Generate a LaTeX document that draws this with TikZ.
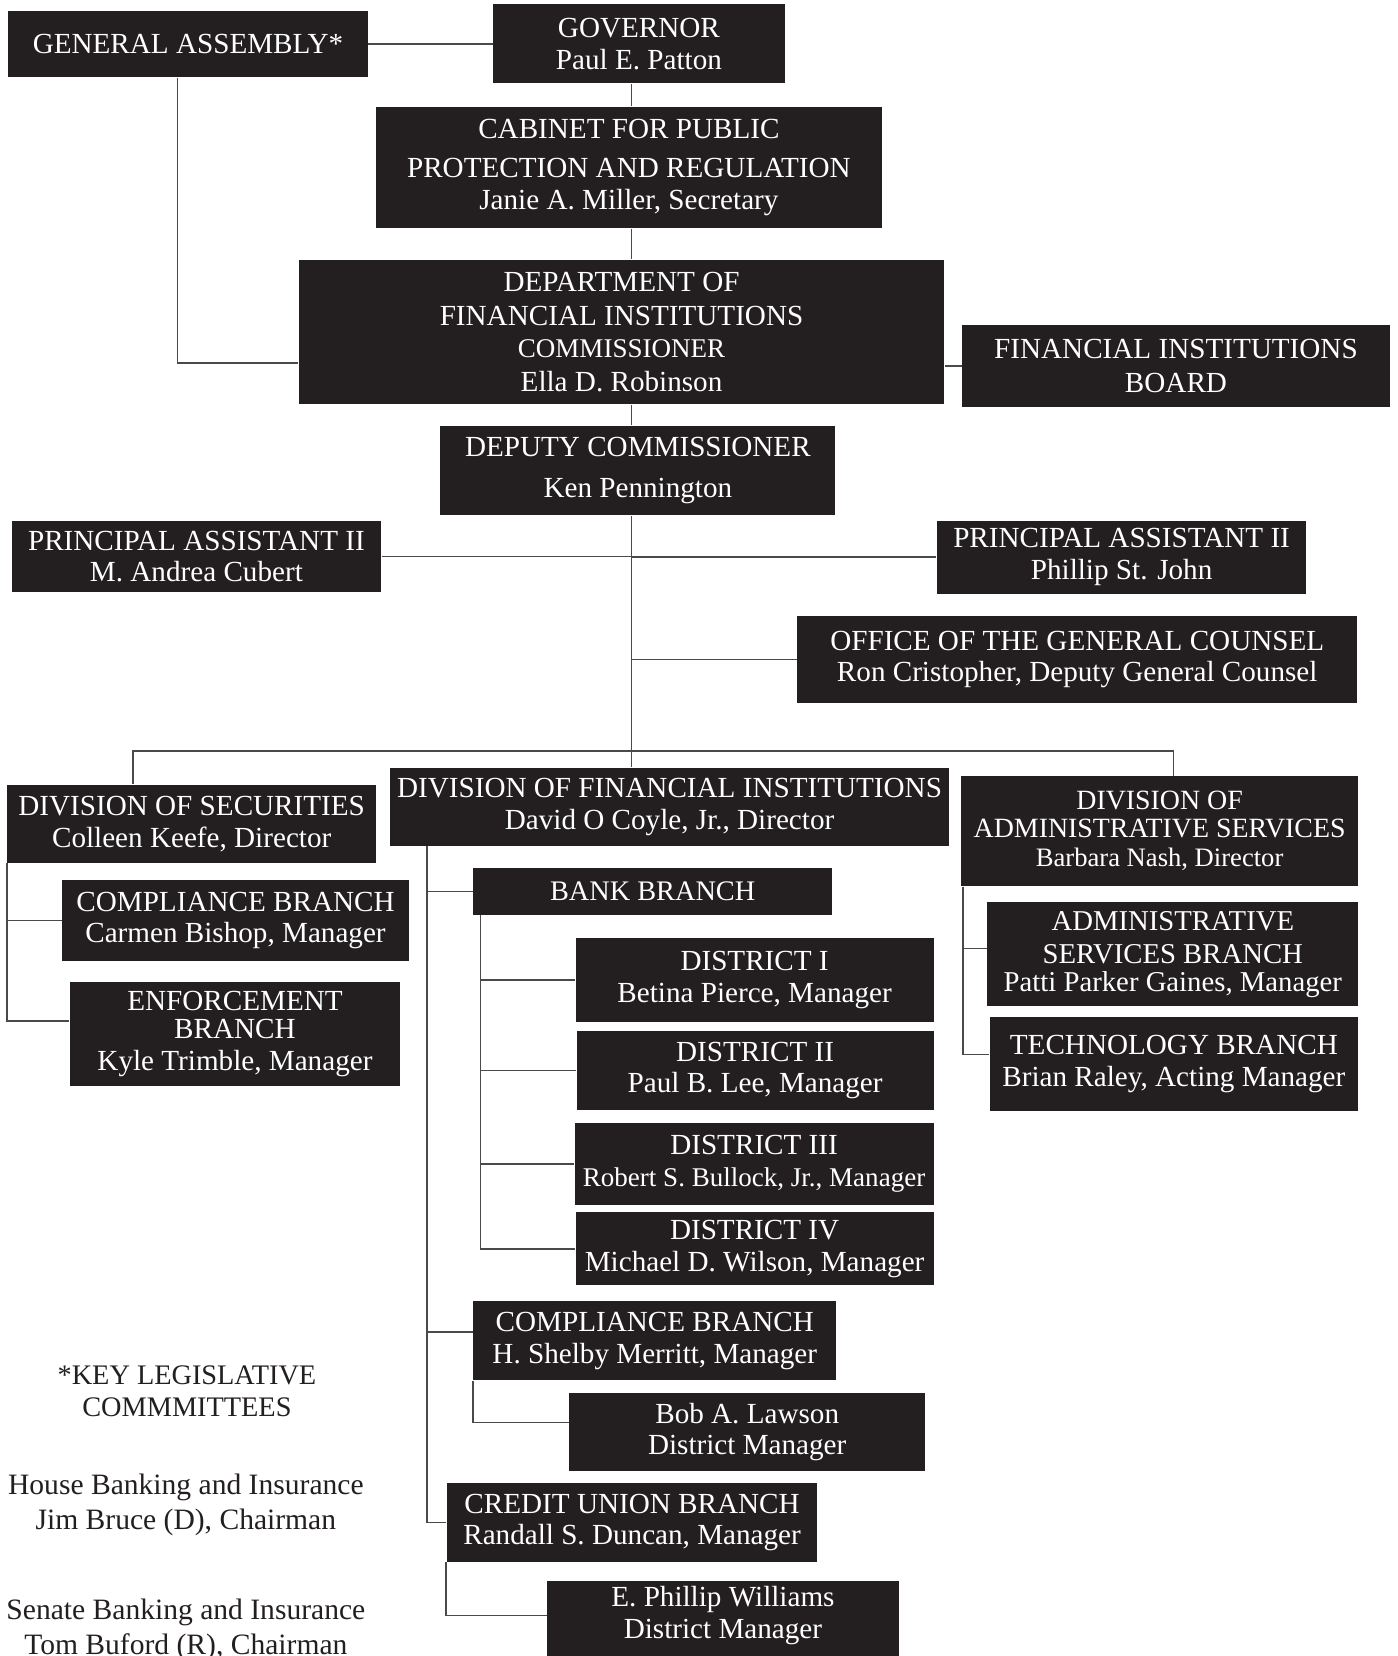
\documentclass[tikz,border=0pt]{standalone}
\usepackage{fontspec}
\setmainfont{Liberation Serif}
\definecolor{boxfill}{HTML}{231F20}
\definecolor{linec}{HTML}{4A4A4A}
\tikzset{
  orgbox/.style={fill=boxfill, text=white, align=center, inner sep=2pt, font=\fontsize{13.8}{15}\selectfont},
  conn/.style={draw=linec, line width=0.8pt},
  plaintext/.style={text=boxfill, align=center, inner sep=0pt, font=\fontsize{13.4}{15}\selectfont}
}
\newcommand\obox[7][]{%
  \pgfmathsetmacro\obw{(#5-#3)*0.5}%
  \pgfmathsetmacro\obh{(#6-#4)*0.5}%
  \node[orgbox, minimum width=\obw pt, minimum height=\obh pt, #1] (#2) at ({(#3+#5)/2},{(#4+#6)/2}) {#7};%
}
\begin{document}
\begin{tikzpicture}[x=0.5pt,y=-0.5pt]
\useasboundingbox (0,0) rectangle (1323,1568);
\clip (0,0) rectangle (1323,1568);
\fill[white] (0,0) rectangle (1323,1568);

\coordinate (trunk) at (598,0);
\coordinate (gax) at (168,0);
\coordinate (secx) at (126,0);
\coordinate (admx) at (1111,0);
\coordinate (dfix) at (404,0);
\coordinate (bankx) at (455,0);
\coordinate (admv) at (912,0);
\coordinate (bus) at (598,711);

\obox{ga}{8}{10}{348}{73}{GENERAL ASSEMBLY*}
\obox{gov}{467}{4}{743}{79}{GOVERNOR\\Paul E. Patton}
\obox{cab}{356}{101}{835}{216}{CABINET FOR PUBLIC\\[3.5pt]PROTECTION AND REGULATION\\Janie A. Miller, Secretary}
\obox{dept}{283}{246}{894}{383}{DEPARTMENT OF\\[1pt]FINANCIAL INSTITUTIONS\\{\fontsize{12.8}{15}\selectfont COMMISSIONER}\\[1pt]Ella D. Robinson}
\obox{board}{911}{308}{1316}{385}{FINANCIAL INSTITUTIONS\\[1pt]BOARD}
\obox{dep}{417}{403}{791}{488}{DEPUTY COMMISSIONER\\[4pt]Ken Pennington}
\obox{pal}{11}{493}{361}{561}{PRINCIPAL ASSISTANT II\\M. Andrea Cubert}
\obox{par}{887}{493}{1237}{562}{PRINCIPAL ASSISTANT II\\Phillip St. John}
\obox{ogc}{755}{583}{1285}{666}{OFFICE OF THE GENERAL COUNSEL\\Ron Cristopher, Deputy General Counsel}
\obox{sec}{7}{743}{356}{817}{DIVISION OF SECURITIES\\Colleen Keefe, Director}
\obox{dfi}{369}{727}{899}{801}{DIVISION OF FINANCIAL INSTITUTIONS\\David O Coyle, Jr., Director}
\obox[font=\fontsize{13.2}{13}\selectfont]{adm}{910}{735}{1286}{839}{DIVISION OF\\ADMINISTRATIVE SERVICES\\[1pt]{\fontsize{12.6}{14}\selectfont Barbara Nash, Director}}
\obox{secc}{59}{833}{387}{910}{COMPLIANCE BRANCH\\Carmen Bishop, Manager}
\obox[font=\fontsize{13.8}{13}\selectfont]{enf}{66}{930}{379}{1028}{ENFORCEMENT\\BRANCH\\[2pt]Kyle Trimble, Manager}
\obox[font=\fontsize{13.4}{13}\selectfont]{bank}{448}{822}{788}{866}{BANK BRANCH}
\obox{d1}{545}{888}{884}{968}{DISTRICT I\\Betina Pierce, Manager}
\obox{d2}{546}{976}{884}{1051}{DISTRICT II\\Paul B. Lee, Manager}
\obox{d3}{544}{1063}{884}{1141}{DISTRICT III\\{\fontsize{12.8}{15}\selectfont Robert S. Bullock, Jr., Manager}}
\obox{d4}{545}{1148}{884}{1217}{DISTRICT IV\\Michael D. Wilson, Manager}
\obox{cmp}{448}{1232}{792}{1307}{COMPLIANCE BRANCH\\H. Shelby Merritt, Manager}
\obox{law}{539}{1319}{876}{1393}{Bob A. Lawson\\District Manager}
\obox{cu}{423}{1404}{774}{1479}{CREDIT UNION BRANCH\\Randall S. Duncan, Manager}
\obox{wil}{518}{1497}{851}{1562}{E. Phillip Williams\\District Manager}
\fill[boxfill] (wil.south west) rectangle ([yshift=-10pt]wil.south east);
\obox[font=\fontsize{13.6}{13}\selectfont]{asb}{935}{854}{1286}{953}{ADMINISTRATIVE\\[3pt]SERVICES BRANCH\\Patti Parker Gaines, Manager}
\obox{tech}{937}{963}{1286}{1052}{TECHNOLOGY BRANCH\\Brian Raley, Acting Manager}

\node[plaintext] (key) at (177,1317) {*KEY LEGISLATIVE\\COMMMITTEES};
\node[plaintext, font=\fontsize{14}{16.5}\selectfont] (house) at (176,1424.5) {House Banking and Insurance\\Jim Bruce (D), Chairman};
\node[plaintext, font=\fontsize{14}{16.5}\selectfont] (senate) at (176,1543.5) {Senate Banking and Insurance\\Tom Buford (R), Chairman};

\draw[conn] (ga.east) -- (gov.west);
\draw[conn] (ga.south -| gax) |- ([yshift=-14.75pt]dept.west);
\draw[conn] (gov.south -| trunk) -- (cab.north -| trunk);
\draw[conn] (cab.south -| trunk) -- (dept.north -| trunk);
\draw[conn] (dept.south -| trunk) -- (dep.north -| trunk);
\draw[conn] (board.west) -- (board.west -| dept.east);
\draw[conn] (dep.south -| trunk) -- (dfi.north -| trunk);
\draw[conn] (pal.east) -- (pal.east -| trunk);
\draw[conn] (par.west) -- (par.west -| trunk);
\draw[conn] (ogc.west) -- (ogc.west -| trunk);
\draw[conn] (sec.north -| secx) |- (bus) -| (adm.north -| admx);
\draw[conn] (sec.south west) |- (secc.west);
\draw[conn] (sec.south west) |- ([yshift=6pt]enf.west);
\draw[conn] (dfi.south -| dfix) |- (bank.west);
\draw[conn] (dfi.south -| dfix) |- ([yshift=4pt]cmp.west);
\draw[conn] (dfi.south -| dfix) |- (cu.west);
\draw[conn] (bank.south -| bankx) |- (d1.west);
\draw[conn] (bank.south -| bankx) |- (d2.west);
\draw[conn] (bank.south -| bankx) |- (d3.west);
\draw[conn] (bank.south -| bankx) |- (d4.west);
\draw[conn] (cmp.south west) |- ([yshift=4.5pt]law.west);
\draw[conn] (cu.south west) |- (wil.west);
\draw[conn] (adm.south -| admv) |- ([yshift=2.75pt]asb.west);
\draw[conn] (adm.south -| admv) |- ([yshift=4.5pt]tech.west);
\end{tikzpicture}
\end{document}
